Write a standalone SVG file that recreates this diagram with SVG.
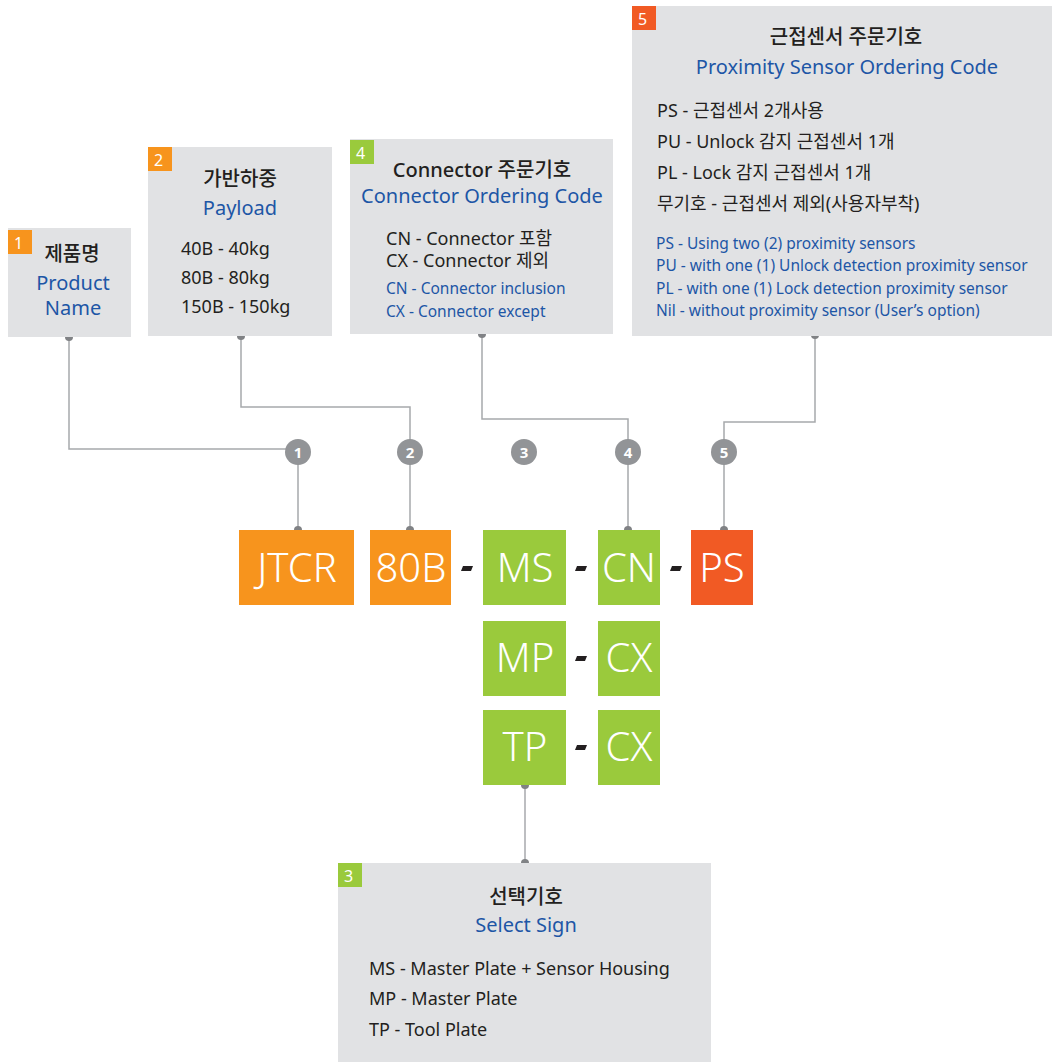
<svg xmlns="http://www.w3.org/2000/svg" width="1053" height="1062" viewBox="0 0 1053 1062">
<style>
.panel{fill:#e1e2e4}
.bo{fill:#f7941d}.bg{fill:#9aca3c}.br{fill:#f15a24}
.bn{font-family:"Noto Sans","Noto Sans CJK KR",sans-serif;font-size:16px;fill:#fff}
.t{font-family:"Noto Sans","Noto Sans CJK KR",sans-serif;fill:#231f20}
.ti{font-size:20px;font-weight:500;text-anchor:middle}
.bl{font-family:"Noto Sans","Noto Sans CJK KR",sans-serif;fill:#1d56a6}
.sub{font-size:20px;text-anchor:middle}
.it{font-size:18px}
.bi{font-size:15.5px}
.code{font-family:"Noto Sans",sans-serif;font-size:40px;fill:#fff;text-anchor:middle;font-weight:300}
.dash{fill:#231f20}
.circ{fill:#929497}
.cn{font-family:"Noto Sans",sans-serif;font-size:15px;font-weight:bold;fill:#fff;text-anchor:middle}
.ln{fill:none;stroke:#a7a9ac;stroke-width:1.5}
.dot{fill:#808285}
</style>

<g id="connectors">
<path class="ln" d="M69 337 V449 H298 V530"/>
<path class="ln" d="M241 336 V407 H410 V530"/>
<path class="ln" d="M482 334 V419 H628 V530"/>
<path class="ln" d="M815 335 V422 H724 V530"/>
<path class="ln" d="M525 785 V863"/>
<circle class="dot" cx="69" cy="337" r="4"/>
<circle class="dot" cx="241" cy="336" r="4"/>
<circle class="dot" cx="482" cy="334" r="4"/>
<circle class="dot" cx="815" cy="335" r="4"/>
<circle class="dot" cx="298" cy="530" r="4"/>
<circle class="dot" cx="410" cy="530" r="4"/>
<circle class="dot" cx="628" cy="530" r="4"/>
<circle class="dot" cx="724" cy="530" r="4"/>
<circle class="dot" cx="525" cy="785" r="4"/>
<circle class="dot" cx="525" cy="863" r="4"/>
</g>

<g id="callouts">
<circle class="circ" cx="298" cy="452" r="13"/><text class="cn" x="298" y="458">1</text>
<circle class="circ" cx="410" cy="452" r="13"/><text class="cn" x="410" y="458">2</text>
<circle class="circ" cx="524" cy="452" r="13"/><text class="cn" x="524" y="458">3</text>
<circle class="circ" cx="628" cy="452" r="13"/><text class="cn" x="628" y="458">4</text>
<circle class="circ" cx="724" cy="452" r="13"/><text class="cn" x="724" y="458">5</text>
</g>

<g id="node1">
<rect class="panel" x="8" y="228" width="123" height="109"/>
<rect class="bo" x="8" y="230" width="24" height="24"/>
<text class="bn" x="14" y="249">1</text>
<text class="t ti" x="72" y="261">제품명</text>
<text class="bl sub" x="73" y="290">Product</text>
<text class="bl sub" x="73" y="315">Name</text>
</g>

<g id="node2">
<rect class="panel" x="148" y="147" width="184" height="189"/>
<rect class="bo" x="148" y="147" width="24" height="24"/>
<text class="bn" x="154" y="166">2</text>
<text class="t ti" x="240" y="186">가반하중</text>
<text class="bl sub" x="240" y="215">Payload</text>
<text class="t it" x="181" y="255">40B - 40kg</text>
<text class="t it" x="181" y="284">80B - 80kg</text>
<text class="t it" x="181" y="313">150B - 150kg</text>
</g>

<g id="node4">
<rect class="panel" x="350" y="139" width="263" height="195"/>
<rect class="bg" x="350" y="140" width="24" height="24"/>
<text class="bn" x="356" y="159">4</text>
<text class="t ti" x="482" y="177">Connector 주문기호</text>
<text class="bl sub" x="482" y="203">Connector Ordering Code</text>
<text class="t it" x="386" y="245">CN - Connector 포함</text>
<text class="t it" x="386" y="267">CX - Connector 제외</text>
<text class="bl bi" x="386" y="294">CN - Connector inclusion</text>
<text class="bl bi" x="386" y="317">CX - Connector except</text>
</g>

<g id="node5">
<rect class="panel" x="632" y="6" width="420" height="330"/>
<rect class="br" x="632" y="6" width="24" height="24"/>
<text class="bn" x="638" y="25">5</text>
<text class="t ti" x="846" y="44">근접센서 주문기호</text>
<text class="bl sub" x="847" y="74">Proximity Sensor Ordering Code</text>
<text class="t it" x="657" y="117">PS - 근접센서 2개사용</text>
<text class="t it" x="657" y="148">PU - Unlock 감지 근접센서 1개</text>
<text class="t it" x="657" y="179">PL - Lock 감지 근접센서 1개</text>
<text class="t it" x="657" y="210">무기호 - 근접센서 제외(사용자부착)</text>
<text class="bl bi" x="656" y="249">PS - Using two (2) proximity sensors</text>
<text class="bl bi" x="656" y="271">PU - with one (1) Unlock detection proximity sensor</text>
<text class="bl bi" x="656" y="294">PL - with one (1) Lock detection proximity sensor</text>
<text class="bl bi" x="656" y="316">Nil - without proximity sensor (User’s option)</text>
</g>

<g id="node3">
<rect class="panel" x="338" y="863" width="373" height="199"/>
<rect class="bg" x="338" y="863" width="24" height="24"/>
<text class="bn" x="344" y="882">3</text>
<text class="t ti" x="526" y="904">선택기호</text>
<text class="bl sub" x="526" y="932">Select Sign</text>
<text class="t it" x="369" y="975">MS - Master Plate + Sensor Housing</text>
<text class="t it" x="369" y="1005">MP - Master Plate</text>
<text class="t it" x="369" y="1036">TP - Tool Plate</text>
</g>

<g id="code-jtcr"><rect class="bo" x="239" y="530" width="115" height="75"/><text class="code" x="297" y="582">JTCR</text></g>
<g id="code-80b"><rect class="bo" x="370" y="530" width="81" height="75"/><text class="code" x="411" y="582">80B</text></g>
<g id="code-ms"><rect class="bg" x="483" y="530" width="83" height="75"/><text class="code" x="525" y="582">MS</text></g>
<g id="code-cn"><rect class="bg" x="598" y="530" width="62" height="75"/><text class="code" x="629" y="582">CN</text></g>
<g id="code-ps"><rect class="br" x="691" y="530" width="62" height="75"/><text class="code" x="722" y="582">PS</text></g>
<g id="code-mp"><rect class="bg" x="483" y="621" width="83" height="75"/><text class="code" x="525" y="672">MP</text></g>
<g id="code-cx1"><rect class="bg" x="598" y="621" width="62" height="75"/><text class="code" x="629" y="672">CX</text></g>
<g id="code-tp"><rect class="bg" x="483" y="710" width="83" height="75"/><text class="code" x="525" y="761">TP</text></g>
<g id="code-cx2"><rect class="bg" x="598" y="710" width="62" height="75"/><text class="code" x="629" y="761">CX</text></g>

<g id="dashes">
<polygon class="dash" points="463,566 473,566 471,571 461,571"/>
<polygon class="dash" points="577,566 587,566 585,571 575,571"/>
<polygon class="dash" points="672,566 682,566 680,571 670,571"/>
<polygon class="dash" points="577,656 587,656 585,661 575,661"/>
<polygon class="dash" points="577,745 587,745 585,750 575,750"/>
</g>
</svg>
